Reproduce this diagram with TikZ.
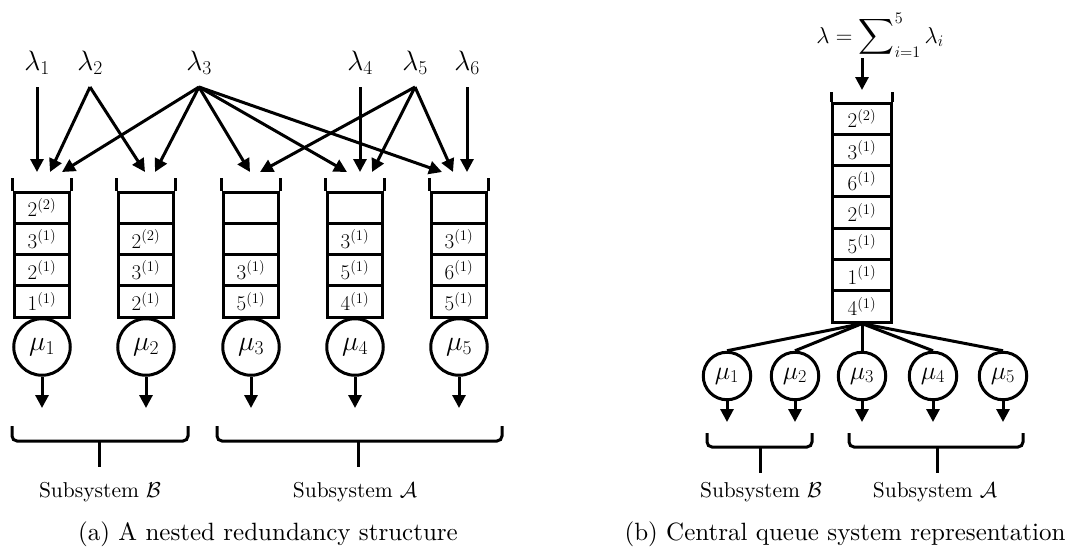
\RequirePackage{fix-cm}
\documentclass[tikz,border=0pt]{standalone}
\usepackage{amsmath}
\usetikzlibrary{arrows.meta,calc}
\begin{document}
\begin{tikzpicture}[x=1pt,y=-1pt,
  lw/.style={line width=3pt},
  arr/.style={lw,-{Triangle[length=13pt,width=13pt]}},
  cell/.style={draw,lw,minimum width=55.5pt,minimum height=31.25pt,inner sep=0pt,
    font=\fontsize{21}{23}\selectfont},
  rcell/.style={cell,minimum width=58.5pt,minimum height=31.3pt},
  srv/.style={draw,lw,circle,minimum size=56.5pt,inner sep=0pt,font=\fontsize{28}{30}\selectfont},
  rsrv/.style={srv,minimum size=47.5pt,font=\fontsize{26}{28}\selectfont},
  lam/.style={anchor=base,font=\fontsize{28}{30}\selectfont},
  sublabel/.style={anchor=base},
  caption/.style={anchor=base}]
\useasboundingbox (0,0) rectangle (1068,558);

% ---------- (a) nested redundancy structure ----------
% arrival streams
\foreach \i/\x in {1/37,2/90,3/199,4/360,5/415,6/467}{
  \node[lam] (lam\i) at (\x,70) {$\lambda_{\i}$};
  \coordinate (s\i) at (\x,87);
}

% queues (cells listed top to bottom)
\foreach \q/\x/\labs in {
  1/42/{2^{(2)},3^{(1)},2^{(1)},1^{(1)}},
  2/146/{,2^{(2)},3^{(1)},2^{(1)}},
  3/251/{,,3^{(1)},5^{(1)}},
  4/355/{,3^{(1)},5^{(1)},4^{(1)}},
  5/459/{,3^{(1)},6^{(1)},5^{(1)}}}{
  \foreach \t [count=\k] in \labs {
    \node[cell] (q\q c\k) at (\x,176.375+31.25*\k) {\ensuremath{\t}};
  }
  \draw[lw] (q\q c1.north west) -- ++(0,-13);
  \draw[lw] (q\q c1.north east) -- ++(0,-13);
  \node[srv] (m\q) at (\x,347) {$\mu_{\q}$};
  \coordinate (o\q) at (\x,408);
  \draw[arr] (m\q.south) -- (o\q);
}

% arrow end points above the queues
\coordinate (t1a) at (37,172);
\coordinate (t1b) at (50,172);
\coordinate (t1c) at (62,172);
\coordinate (t2a) at (145,172);
\coordinate (t2b) at (155,172);
\coordinate (t3a) at (250,172);
\coordinate (t3b) at (260,172);
\coordinate (t4a) at (347,172);
\coordinate (t4b) at (360,172);
\coordinate (t4c) at (372,172);
\coordinate (t5a) at (442,172);
\coordinate (t5b) at (453,172);
\coordinate (t5c) at (467,172);

\draw[arr] (s1) -- (t1a);
\draw[arr] (s2) -- (t1b);
\draw[arr] (s2) -- (t2a);
\draw[arr] (s3) -- (t1c);
\draw[arr] (s3) -- (t2b);
\draw[arr] (s3) -- (t3a);
\draw[arr] (s3) -- (t4a);
\draw[arr] (s3) -- (t5a);
\draw[arr] (s4) -- (t4b);
\draw[arr] (s5) -- (t3b);
\draw[arr] (s5) -- (t4c);
\draw[arr] (s5) -- (t5b);
\draw[arr] (s6) -- (t5c);

% ---------- (b) central queue ----------
\node[anchor=base,inner sep=0pt,font=\fontsize{23}{25}\selectfont] (lamsum) at (880,43)
  {$\lambda=\displaystyle\sum\nolimits_{i=1}^{5}\lambda_i$};
\coordinate (s0) at (862,58);
\coordinate (r0) at (862,90);
\draw[arr] (s0) -- (r0);

\foreach \t [count=\k] in {2^{(2)},3^{(1)},6^{(1)},2^{(1)},5^{(1)},1^{(1)},4^{(1)}}{
  \node[rcell] (rc\k) at (862,87.35+31.3*\k) {\ensuremath{\t}};
}
\draw[lw] (rc1.north west) -- ++(0,-10);
\draw[lw] (rc1.north east) -- ++(0,-10);

\foreach \i/\x in {1/727,2/795,3/862,4/933,5/1003}{
  \node[rsrv] (n\i) at (\x,376) {$\mu_{\i}$};
  \draw[lw] (rc7.south) -- (n\i.north);
  \coordinate (p\i) at (\x,422);
  \draw[arr] (n\i.south) -- (p\i);
}

% ---------- subsystem brackets ----------
\foreach \l/\r/\m/\t/\h/\b in {12/188/99/426/441/467,217/502/358/426/441/467,
  707/812/760/433/447/473,849/1023/937/433/447/473}{
  \draw[lw,rounded corners=5pt] (\l,\t) |- (\m,\h) -| (\r,\t);
  \draw[lw] (\m,\h) -- (\m,\b);
}

\node[sublabel] (subBa) at (100,497) {\scalebox{2.15}{Subsystem $\mathcal{B}$}};
\node[sublabel] (subAa) at (355,497) {\scalebox{2.15}{Subsystem $\mathcal{A}$}};
\node[sublabel] (subBb) at (761,497) {\scalebox{2.15}{Subsystem $\mathcal{B}$}};
\node[sublabel] (subAb) at (935,497) {\scalebox{2.15}{Subsystem $\mathcal{A}$}};

% ---------- captions ----------
\node[caption] (capa) at (268,540) {\scalebox{2.5}{(a) A nested redundancy structure}};
\node[caption] (capb) at (845,540) {\scalebox{2.5}{(b) Central queue system representation}};
\end{tikzpicture}
\end{document}
